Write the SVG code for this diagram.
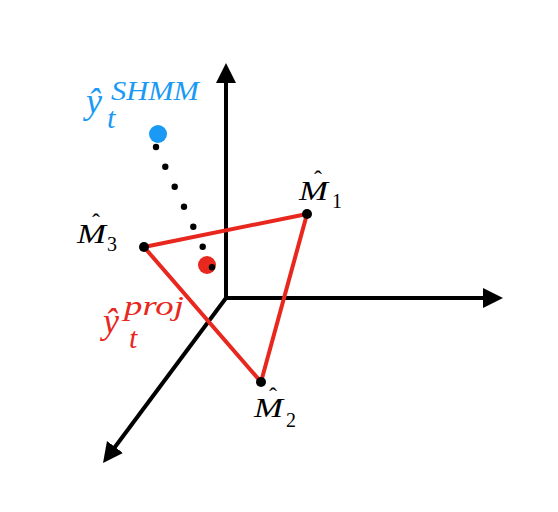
<svg xmlns="http://www.w3.org/2000/svg" width="558" height="512" viewBox="0 0 558 512">
<style>
.ax{stroke:#000;stroke-width:4;fill:none}
.tri{stroke:#e8281e;stroke-width:4;fill:none;stroke-linejoin:round}
.vtx{fill:#000}
.dot{fill:#000}
.lbl{font-family:"Liberation Serif","Times New Roman",serif;font-style:italic;fill:#000;font-size:28px}
.hat{font-family:"Liberation Serif","Times New Roman",serif;fill:#000;font-size:24px}
.sub{font-family:"Liberation Serif","Times New Roman",serif;fill:#000;font-size:20px}
.blue{font-family:"Liberation Serif","Times New Roman",serif;font-style:italic;fill:#1a9af5}
.red{font-family:"Liberation Serif","Times New Roman",serif;font-style:italic;fill:#e8281e}
</style>
<defs>
<marker id="arr" markerUnits="userSpaceOnUse" markerWidth="22" markerHeight="22" refX="5" refY="10" orient="auto">
<path d="M0,0 L20,10 L0,20 z" fill="#000"/>
</marker>
</defs>
<rect width="558" height="512" fill="#fff"/>
<g id="connectors">
<line class="ax" x1="226" y1="299" x2="226" y2="78" marker-end="url(#arr)"/>
<line class="ax" x1="224" y1="298" x2="488" y2="298" marker-end="url(#arr)"/>
<line class="ax" x1="226" y1="298" x2="112" y2="451" marker-end="url(#arr)"/>
<polygon class="tri" points="144,247 307,214 261,382"/>
<g id="dotted">
<circle class="dot" cx="156" cy="147" r="3.2"/>
<circle class="dot" cx="165.3" cy="166.7" r="3.2"/>
<circle class="dot" cx="174.7" cy="186.7" r="3.2"/>
<circle class="dot" cx="184" cy="206.7" r="3.2"/>
<circle class="dot" cx="193.3" cy="226.7" r="3.2"/>
<circle class="dot" cx="202.7" cy="246.7" r="3.2"/>
</g>
</g>
<g id="M1">
<circle class="vtx" cx="307" cy="214" r="5"/>
<text class="lbl" x="299" y="200" textLength="29" lengthAdjust="spacingAndGlyphs">M</text>
<text class="hat" x="314" y="187">ˆ</text>
<text class="sub" x="332" y="208">1</text>
</g>
<g id="M2">
<circle class="vtx" cx="261" cy="382" r="5"/>
<text class="lbl" x="254" y="417" textLength="29" lengthAdjust="spacingAndGlyphs">M</text>
<text class="hat" x="269" y="404">ˆ</text>
<text class="sub" x="286" y="427">2</text>
</g>
<g id="M3">
<circle class="vtx" cx="144" cy="247" r="5"/>
<text class="lbl" x="77" y="243" textLength="29" lengthAdjust="spacingAndGlyphs">M</text>
<text class="hat" x="92" y="230">ˆ</text>
<text class="sub" x="107" y="251">3</text>
</g>
<g id="yshmm">
<circle cx="158" cy="134" r="9" fill="#1a9af5"/>
<text class="blue" x="86" y="113" font-size="36">ŷ</text>
<text class="blue" x="111" y="100" font-size="27" textLength="88" lengthAdjust="spacingAndGlyphs">SHMM</text>
<text class="blue" x="107" y="128" font-size="30">t</text>
</g>
<g id="yproj">
<circle cx="207" cy="265" r="9" fill="#e8281e"/>
<circle class="dot" cx="212" cy="267.3" r="3.2"/>
<text class="red" x="103" y="333" font-size="36">ŷ</text>
<text class="red" x="124" y="315" font-size="27" textLength="60" lengthAdjust="spacingAndGlyphs">proj</text>
<text class="red" x="129" y="348" font-size="30">t</text>
</g>
</svg>
